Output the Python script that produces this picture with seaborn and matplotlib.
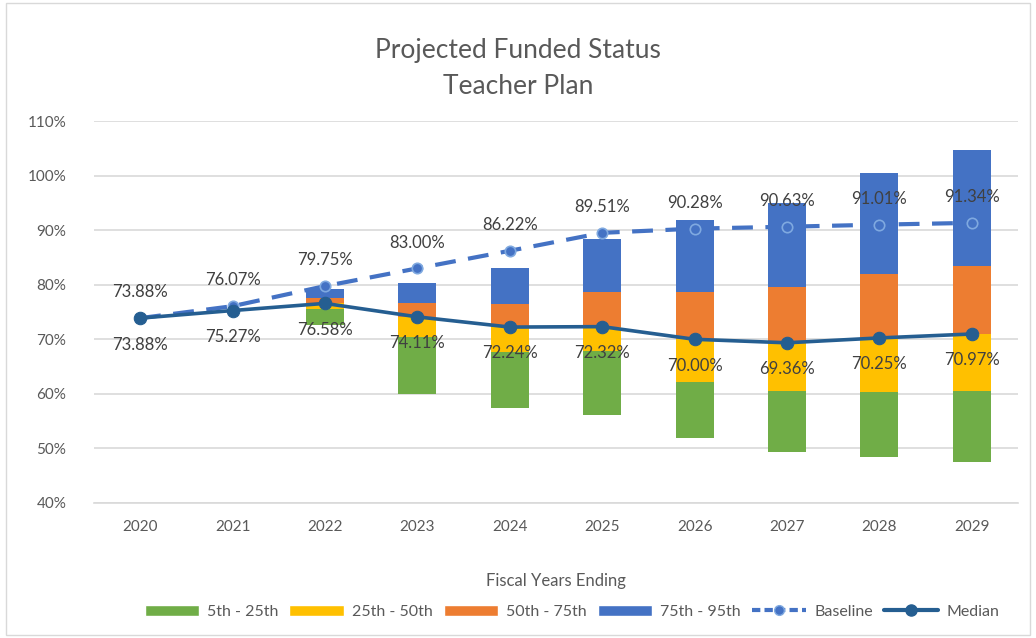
import matplotlib
matplotlib.use('Agg')
import matplotlib.pyplot as plt
import seaborn as sns
import numpy as np
import pandas as pd
from matplotlib.patches import Patch, Rectangle
from matplotlib.lines import Line2D
from matplotlib.ticker import FuncFormatter, FixedLocator

sns.set_style("white")
plt.rcParams['font.family'] = ['Lato', 'DejaVu Sans']

# data
years = ['2020', '2021', '2022', '2023', '2024', '2025', '2026', '2027', '2028', '2029']
baseline = [73.88, 76.07, 79.75, 83.00, 86.22, 89.51, 90.28, 90.63, 91.01, 91.34]
median = [73.88, 75.27, 76.58, 74.11, 72.24, 72.32, 70.00, 69.36, 70.25, 70.97]
# percentile bands (no bands for 2020, 2021)
p5 = [np.nan, np.nan, 72.6, 60.0, 57.5, 56.1, 52.0, 49.3, 48.4, 47.6]
p25 = [np.nan, np.nan, 75.5, 70.5, 67.6, 67.9, 62.1, 60.5, 60.3, 60.5]
p50 = [np.nan, np.nan, 76.58, 74.11, 72.24, 72.32, 70.00, 69.36, 70.25, 70.97]
p75 = [np.nan, np.nan, 77.6, 76.7, 76.5, 78.7, 78.7, 79.6, 81.9, 83.5]
p95 = [np.nan, np.nan, 79.2, 80.35, 83.1, 88.3, 91.8, 95.0, 100.4, 104.65]

band_names = ['5th - 25th', '25th - 50th', '50th - 75th', '75th - 95th']
band_colors = ['#70AD47', '#FFC000', '#ED7D31', '#4472C4']
base_color = '#4472C4'
med_color = '#255E91'
text_color = '#404040'
axis_color = '#595959'

df = pd.DataFrame({'year': years, 'pos': np.arange(len(years)),
                   'baseline': baseline, 'median': median,
                   'p5': p5, 'p25': p25, 'p50': p50, 'p75': p75, 'p95': p95})

fig = plt.figure(figsize=(10.36, 6.38), dpi=100)
ax = fig.add_axes([0.0907, 0.2116, 0.8919, 0.5987])

# stacked percentile bars
edges = ['p5', 'p25', 'p50', 'p75', 'p95']
for i in range(4):
    lo = df[edges[i]]
    hi = df[edges[i + 1]]
    ax.bar(df['pos'], hi - lo, bottom=lo, width=0.41, color=band_colors[i],
           zorder=2, linewidth=0)

# baseline (dashed line sits behind the bars)
sns.lineplot(data=df, x='pos', y='baseline', ax=ax, color=base_color, lw=3.0,
             dashes=False, zorder=1, legend=False)
ax.lines[-1].set_dashes((5, 3))
ax.plot(df['pos'], df['baseline'], ls='none', marker='o', ms=7.5,
        mfc=base_color, mec='#7FA9E0', mew=1.2, zorder=3)

# median
sns.lineplot(data=df, x='pos', y='median', ax=ax, color=med_color, lw=2.6,
             marker='o', markersize=9, markeredgecolor=med_color, zorder=4,
             legend=False)

for x, b, m in zip(df['pos'], baseline, median):
    ax.annotate(f'{b:.2f}%', (x, b), xytext=(0, 18.5), textcoords='offset points',
                ha='center', va='center', fontsize=12, color=text_color, zorder=5)
    ax.annotate(f'{m:.2f}%', (x, m), xytext=(0, -19), textcoords='offset points',
                ha='center', va='center', fontsize=12, color=text_color, zorder=5)

ax.set_ylim(40, 110)
ax.set_xlim(-0.5, len(years) - 0.5)
ax.set_yticks(np.arange(40, 111, 10))
ax.yaxis.set_major_formatter(FuncFormatter(lambda v, p: f'{v:.0f}%'))
ax.yaxis.grid(True, color='#D9D9D9', lw=1.2, zorder=0)
ax.set_axisbelow(True)

ax.set_xticks(df['pos'])
ax.set_xticklabels(years)
ax.xaxis.set_minor_locator(FixedLocator(np.arange(-0.5, len(years), 1)))
ax.tick_params(axis='x', which='major', length=0, pad=12, labelsize=11, labelcolor=axis_color)
ax.tick_params(axis='x', which='minor', length=8, color='#D9D9D9', width=1.2)
ax.tick_params(axis='y', length=7, color='#D9D9D9', width=1.2, pad=13,
               labelsize=11, labelcolor=axis_color)

for s in ['top', 'right', 'left']:
    ax.spines[s].set_visible(False)
ax.spines['bottom'].set_color('#D9D9D9')
ax.spines['bottom'].set_linewidth(1.2)

ax.set_xlabel('Fiscal Years Ending', fontsize=12, color=axis_color, labelpad=28)
ax.set_ylabel('')
fig.text(0.5, 0.892, 'Projected Funded Status\nTeacher Plan', fontsize=19,
         color=axis_color, ha='center', va='center', linespacing=1.55)

handles = [Patch(facecolor=c, label=n) for c, n in zip(band_colors, band_names)]
handles.append(Line2D([], [], color=base_color, lw=3, dashes=(2, 1), marker='o',
                      ms=7, mfc=base_color, mec='#7FA9E0', label='Baseline'))
handles.append(Line2D([], [], color=med_color, lw=3, marker='o', ms=8,
                      label='Median'))
fig.legend(handles=handles, loc='center', bbox_to_anchor=(0.552, 0.041), ncol=6,
           frameon=False, fontsize=11.5, labelcolor=axis_color, handlelength=3.4,
           handleheight=0.7, columnspacing=0.7, handletextpad=0.5)

fig.patches.append(Rectangle((0.006, 0.004), 0.988, 0.992, transform=fig.transFigure,
                             fill=False, edgecolor='#D9D9D9', lw=1))

fig.savefig('out.png', dpi=100)
